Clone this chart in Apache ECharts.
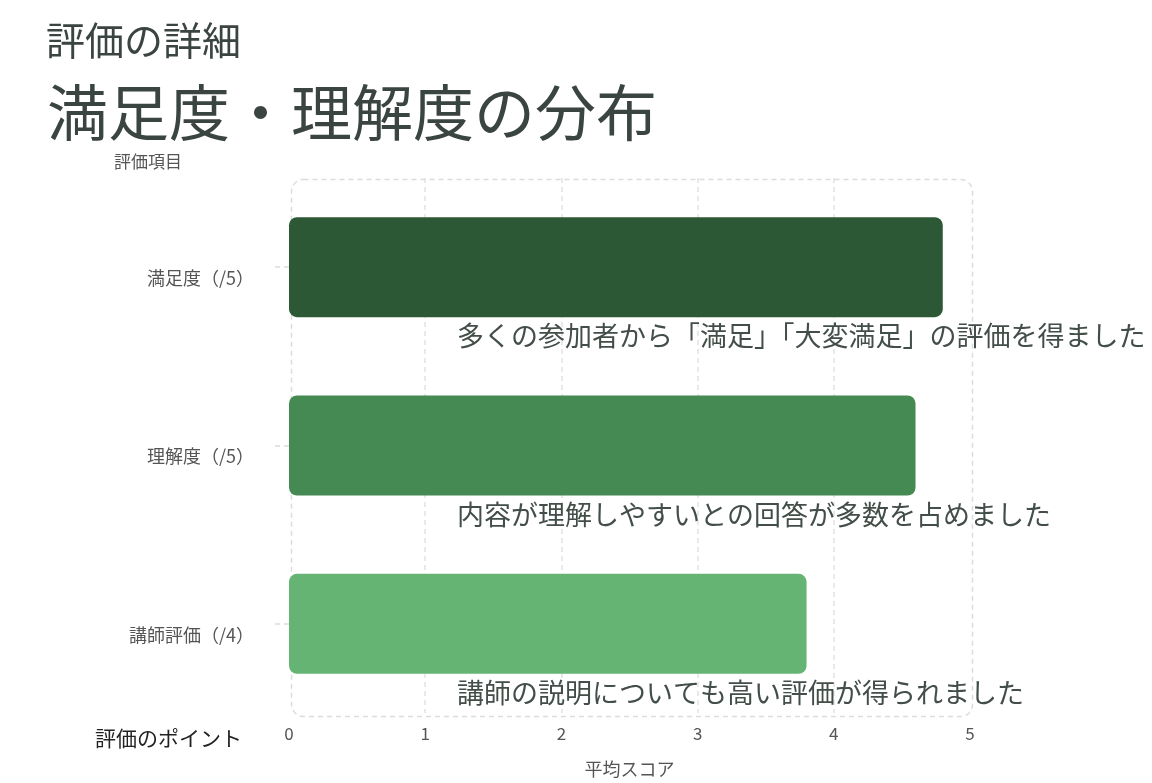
<!DOCTYPE html>
<html>
<head>
<meta charset="utf-8">
<script src="https://cdn.jsdelivr.net/npm/echarts@6/dist/echarts.min.js"></script>
<style>
  html, body { margin: 0; padding: 0; background: #fff; }
  #chart { width: 1152px; height: 783px; }
</style>
</head>
<body>
<div id="chart"></div>
<script>
const categories = ['満足度（/5）', '理解度（/5）', '講師評価（/4）'];
const scores = [4.8, 4.6, 3.8];
const notes = [
    '多くの参加者から「満足」「大変満足」の評価を得ました',
    '内容が理解しやすいとの回答が多数を占めました',
    '講師の説明についても高い評価が得られました'
];
const barColors = ['#2c5835', '#448a52', '#66b474'];

const font = '"Noto Sans CJK JP", "Noto Sans", sans-serif';
const gridBox = { left: 289, top: 178, right: 182, bottom: 68 };

var dom = document.getElementById('chart');
var myChart = echarts.init(dom);

var option = {
    backgroundColor: '#fff',
    textStyle: { fontFamily: font },
    title: [
        { text: '評価の詳細', left: 41, top: 16, textStyle: { fontSize: 39, fontWeight: 'normal', color: '#3a4440', fontFamily: font } },
        { text: '満足度・理解度の分布', left: 42, top: 77, textStyle: { fontSize: 61, fontWeight: 'normal', color: '#3a4440', fontFamily: font } },
        { text: '評価項目', left: 109, top: 148, textStyle: { fontSize: 17, fontWeight: 'normal', color: '#555', fontFamily: font } },
        { text: '評価のポイント', left: 90, top: 723, textStyle: { fontSize: 21, fontWeight: 'normal', color: '#222', fontFamily: font } }
    ],
    grid: {
        left: gridBox.left,
        top: gridBox.top,
        right: gridBox.right,
        bottom: gridBox.bottom
    },
    graphic: [{
        type: 'rect',
        left: gridBox.left,
        top: gridBox.top - 1,
        shape: { width: 1152 - gridBox.left - gridBox.right, height: 783 - gridBox.top - gridBox.bottom, r: 12 },
        style: { fill: 'none', stroke: '#dcdcdc', lineWidth: 1.5, lineDash: [5, 4] },
        silent: true,
        z: 0
    }],
    xAxis: {
        type: 'value',
        min: 0,
        max: 5,
        interval: 1,
        name: '平均スコア',
        nameLocation: 'middle',
        nameGap: 47,
        nameTextStyle: { fontSize: 18, color: '#555' },
        axisLine: { show: false },
        axisTick: { show: false },
        axisLabel: { fontSize: 17, color: '#555', margin: 12 },
        splitLine: {
            show: true,
            showMinLine: false,
            showMaxLine: false,
            lineStyle: { color: '#e2e2e2', type: [5, 4], width: 1.5 }
        }
    },
    yAxis: {
        type: 'category',
        data: categories,
        inverse: true,
        offset: 12,
        axisLine: { show: false },
        axisTick: {
            show: true,
            alignWithLabel: true,
            length: 15,
            lineStyle: { color: '#dcdcdc', type: [5, 4], width: 1.5 }
        },
        axisLabel: {
            fontSize: 18,
            color: '#555',
            margin: 23,
            verticalAlign: 'top',
            lineHeight: 22
        },
        splitLine: { show: false }
    },
    series: [{
        type: 'bar',
        data: scores.map(function (v, i) {
            return {
                value: v,
                itemStyle: { color: barColors[i] },
                label: { formatter: notes[i] }
            };
        }),
        barWidth: 100,
        itemStyle: { borderRadius: 8 },
        label: {
            show: true,
            position: [168, '100%'],
            offset: [0, 19],
            align: 'left',
            verticalAlign: 'middle',
            fontSize: 27,
            color: '#434e48',
            fontFamily: font
        },
        z: 2
    }]
};

option && typeof option === 'object' && myChart.setOption(option, true);
</script>
</body>
</html>
